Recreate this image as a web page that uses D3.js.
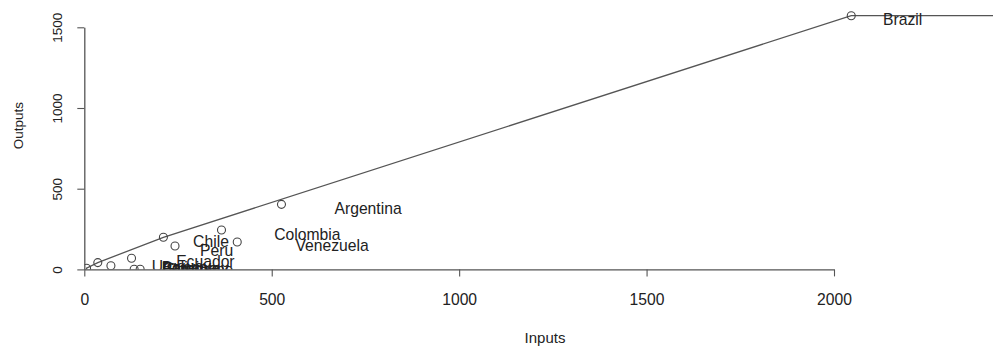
<!DOCTYPE html>
<html>
<head>
<meta charset="utf-8">
<script src="https://cdn.jsdelivr.net/npm/d3@7"></script>
<style>
  html, body { margin: 0; padding: 0; background: #fff; }
  svg { display: block; font-family: "Liberation Sans", Arial, Helvetica, sans-serif; }
</style>
</head>
<body>
<svg id="chart" width="993" height="349"></svg>
<script>
// Input/output pairs per country (DEA units)
const inputs  = [6, 36, 71, 126, 133, 149, 211, 242, 366, 408, 526, 2046];
const outputs = [7, 42, 23, 69, 1, 1, 199, 145, 244, 170, 403, 1572];

// Country names and where each name is written (in data units)
const names   = ["Guyana", "Bolivia", "Paraguay", "Suriname", "Uruguay", "Ecuador",
                 "Peru", "Chile", "Venezuela", "Colombia", "Argentina", "Brazil"];
const nameX   = [282, 268, 296, 308, 259, 323, 353, 338, 661, 595, 757, 2183];
const nameY   = [5, 10, 8, 2, 21, 48, 116, 176, 151, 218, 379, 1551];

const xTicks = [0, 500, 1000, 1500, 2000];
const yTicks = [0, 500, 1000, 1500];

const svg = d3.select("#chart");

const x = d3.scaleLinear().domain([0, 2000]).range([84.3, 834]);
const y = d3.scaleLinear().domain([0, 1500]).range([269.4, 27.3]);

// plot region (extends past the right edge of the canvas)
const plotLeft = x(0), plotBottom = y(0), plotTop = -18, plotRight = 1006;

svg.append("clipPath").attr("id", "plotclip")
  .append("rect")
  .attr("x", plotLeft).attr("y", plotTop)
  .attr("width", plotRight - plotLeft).attr("height", plotBottom - plotTop);

const plot = svg.append("g").attr("clip-path", "url(#plotclip)");

// VRS frontier: upper hull from the smallest input to the largest output
const pts = inputs.map((v, i) => ({ x: v, y: outputs[i] }));
const start = pts.reduce((a, b) => (b.x < a.x || (b.x === a.x && b.y > a.y)) ? b : a);
const maxY = d3.max(pts, d => d.y);
const front = [{ x: start.x, y: 0 }, start];
let cur = start;
while (cur.y < maxY) {
  let best = null, bestSlope = -Infinity;
  for (const p of pts) {
    if (p.x > cur.x && p.y > cur.y) {
      const s = (p.y - cur.y) / (p.x - cur.x);
      if (s > bestSlope) { bestSlope = s; best = p; }
    }
  }
  if (!best) break;
  front.push(best);
  cur = best;
}
front.push({ x: x.invert(plotRight + 50), y: cur.y });

plot.append("path")
  .datum(front)
  .attr("fill", "none")
  .attr("stroke", "#555")
  .attr("stroke-width", 1.3)
  .attr("d", d3.line().x(d => x(d.x)).y(d => y(d.y)));

plot.selectAll("circle.pt")
  .data(pts)
  .join("circle")
  .attr("class", "pt")
  .attr("cx", d => x(d.x))
  .attr("cy", d => y(d.y))
  .attr("r", 4)
  .attr("fill", "none")
  .attr("stroke", "#444")
  .attr("stroke-width", 1.1);

plot.selectAll("text.name")
  .data(names)
  .join("text")
  .attr("class", "name")
  .attr("x", (d, i) => x(nameX[i]))
  .attr("y", (d, i) => y(nameY[i]))
  .attr("dy", "0.36em")
  .attr("text-anchor", "middle")
  .attr("font-size", "15.7px")
  .attr("fill", "#222")
  .text(d => d);

// x axis
const xAxis = svg.append("g")
  .attr("transform", `translate(0,${plotBottom})`)
  .call(d3.axisBottom(x).tickValues(xTicks).tickSize(7).tickSizeOuter(0).tickFormat(d3.format("d")));
xAxis.select(".domain").attr("stroke", "#555").attr("stroke-width", 1.3);
xAxis.selectAll(".tick line").attr("stroke", "#555").attr("stroke-width", 1.1);
xAxis.selectAll(".tick text")
  .attr("y", 35.6).attr("dy", 0)
  .attr("font-size", "15.7px").attr("fill", "#222")
  .attr("font-family", "Liberation Sans, Arial, sans-serif");

// y axis
const yAxis = svg.append("g")
  .attr("transform", `translate(${plotLeft},0)`)
  .call(d3.axisLeft(y).tickValues(yTicks).tickSize(7).tickSizeOuter(0).tickFormat(d3.format("d")));
yAxis.select(".domain").attr("stroke", "#555").attr("stroke-width", 1.3);
yAxis.selectAll(".tick line").attr("stroke", "#555").attr("stroke-width", 1.1);
yAxis.selectAll(".tick text")
  .attr("x", null).attr("dy", null)
  .attr("text-anchor", "middle")
  .attr("transform", `translate(${61.5 - plotLeft},0) rotate(-90)`)
  .attr("font-size", "13.5px").attr("fill", "#222")
  .attr("font-family", "Liberation Sans, Arial, sans-serif");

// axis titles
svg.append("text")
  .attr("x", 545).attr("y", 342.7)
  .attr("text-anchor", "middle")
  .attr("font-size", "15px").attr("fill", "#222")
  .text("Inputs");

svg.append("text")
  .attr("transform", `translate(23,${(plotBottom + plotTop) / 2}) rotate(-90)`)
  .attr("text-anchor", "middle")
  .attr("font-size", "13.5px").attr("fill", "#222")
  .text("Outputs");
</script>
</body>
</html>
